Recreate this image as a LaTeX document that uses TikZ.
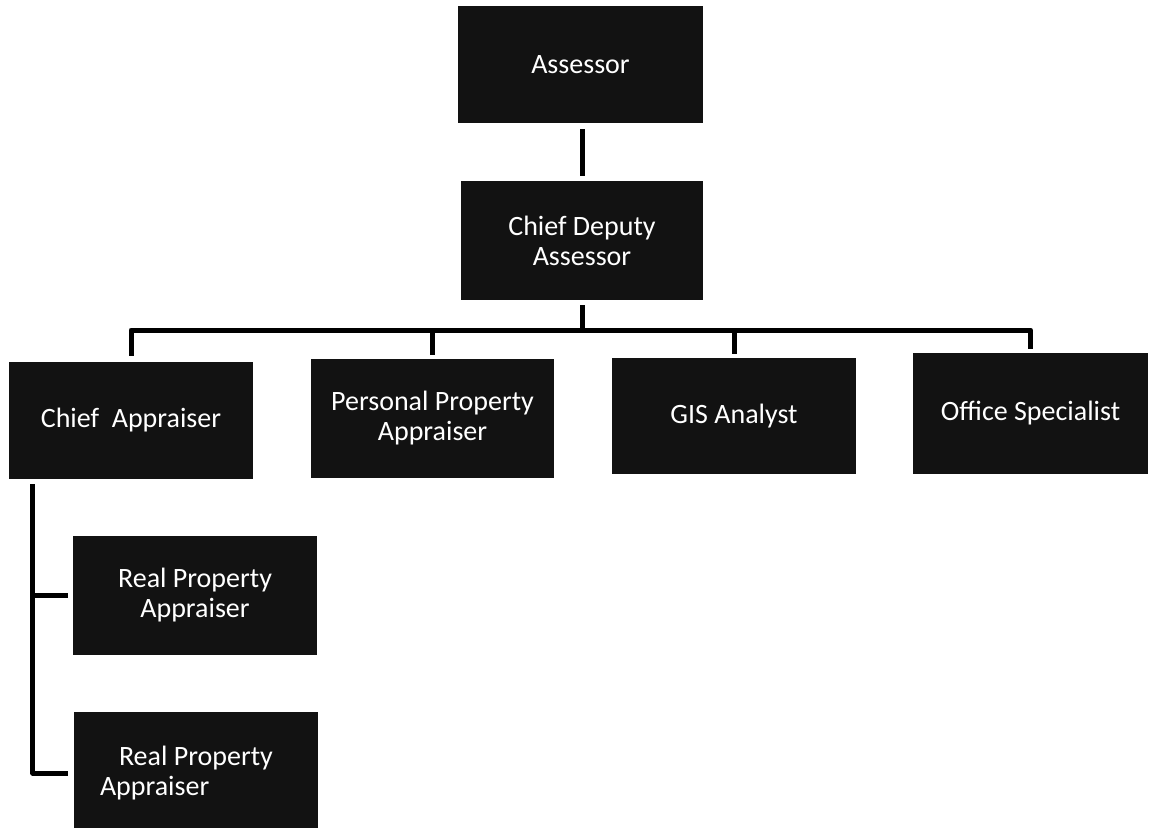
\documentclass[tikz,border=0pt]{standalone}
\usepackage{fontspec}
\setmainfont{Carlito}
\begin{document}
\begin{tikzpicture}[x=1pt,y=-1pt,
  orgbox/.style={draw=none, fill=black!93, text=white, align=center,
    font=\fontsize{28}{30}\selectfont, inner sep=0pt},
  boxtext/.style={text=white, font=\fontsize{28}{30}\selectfont, inner sep=0pt},
  conn/.style={draw=black, line width=5pt, line join=round}]
  \useasboundingbox (0,0) rectangle (1149,828);
  \fill[white] (0,0) rectangle (1149,828);

  % top of the chart
  \node[orgbox, minimum width=245pt, minimum height=117pt] (assessor) at (580.5,64.5) {Assessor};
  \node[orgbox, minimum width=242pt, minimum height=119pt] (deputy) at (582,240.5) {Chief Deputy\\Assessor};

  % second level
  \node[orgbox, minimum width=244pt, minimum height=117pt] (chief) at (131,420.5) {Chief~ Appraiser};
  \node[orgbox, minimum width=243pt, minimum height=119pt] (personal) at (432.5,418.5) {Personal Property\\Appraiser};
  \node[orgbox, minimum width=244pt, minimum height=116pt] (gis) at (734,416) {GIS Analyst};
  \node[orgbox, minimum width=235pt, minimum height=121pt] (office) at (1030.5,413.5) {Office Specialist};

  % appraisers under the chief appraiser
  \node[orgbox, minimum width=244pt, minimum height=119pt] (rp1) at (195,595.5) {Real Property\\Appraiser};
  \node[orgbox, minimum width=244pt, minimum height=116pt] (rp2) at (196,770) {};
  \node[boxtext, anchor=west, align=left] (rp2t) at ([xshift=26pt,yshift=-3pt]rp2.west) {\hspace*{19pt}Real Property\\Appraiser};

  % connectors
  \draw[conn, shorten <=6pt, shorten >=5pt] (assessor.south -| deputy.north) -- (deputy.north);

  \coordinate (bus) at (582,330);
  \draw[conn, shorten <=5pt] (deputy.south) -- (bus);
  \draw[conn, shorten <=6pt, shorten >=4pt] (chief.north) |- (bus) -| (office.north);
  \draw[conn, shorten >=4pt] (bus -| personal.north) -- (personal.north);
  \draw[conn, shorten >=4pt] (bus -| gis.north) -- (gis.north);

  \coordinate (spine) at ([xshift=24pt,yshift=-5pt]chief.south west);
  \draw[conn] (spine) |- ([xshift=-6pt,yshift=-3pt]rp2.west);
  \draw[conn] (spine |- rp1.west) -- ([xshift=-5pt]rp1.west);
\end{tikzpicture}
\end{document}
